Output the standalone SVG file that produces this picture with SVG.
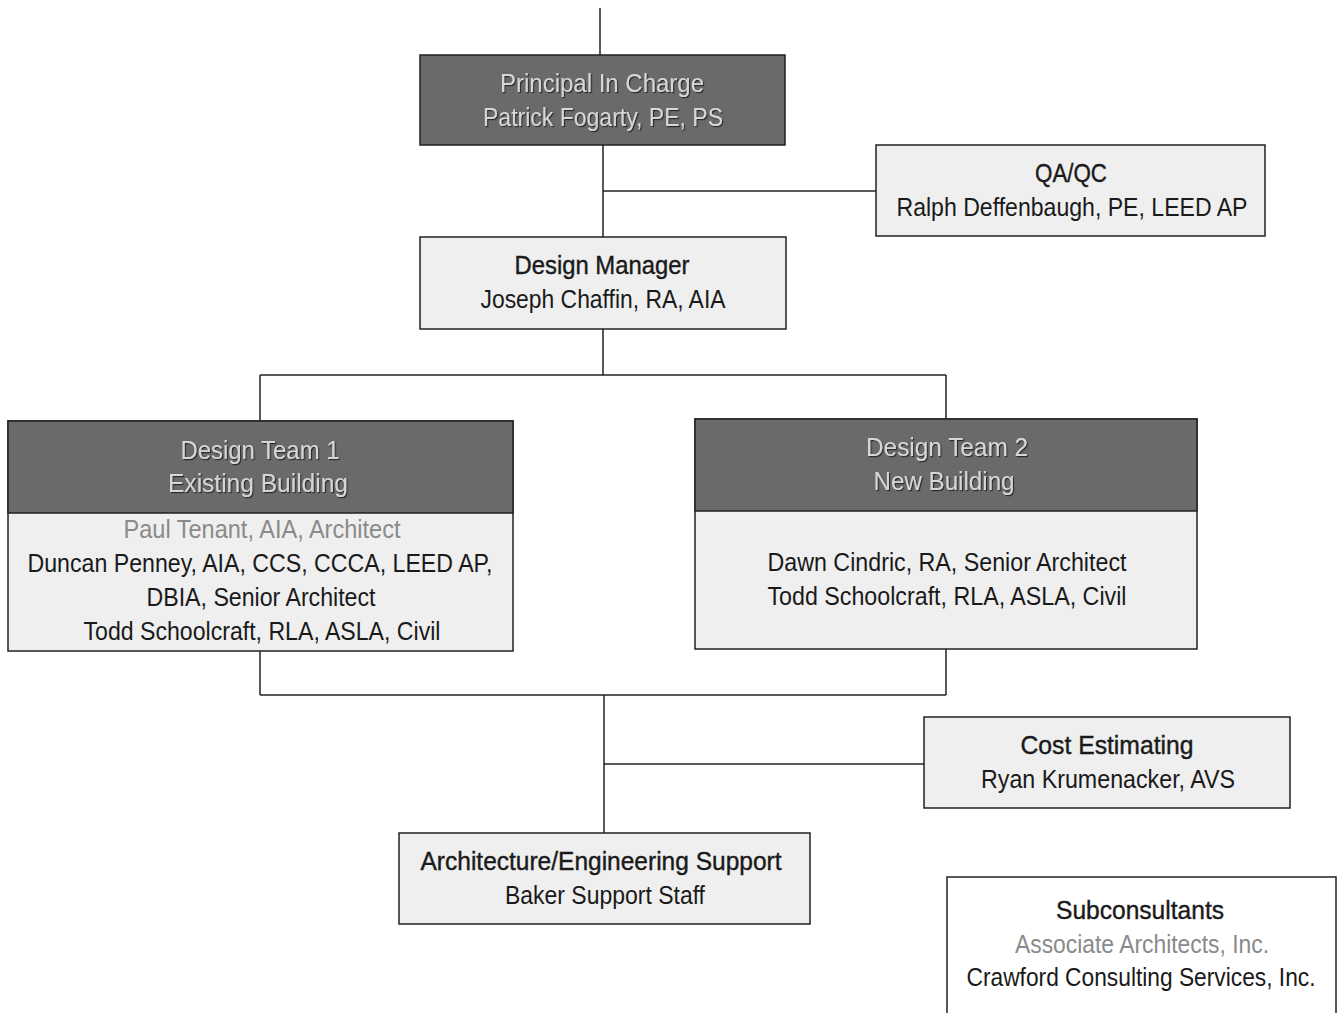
<svg xmlns="http://www.w3.org/2000/svg" width="1338" height="1013" viewBox="0 0 1338 1013">
<defs>
<filter id="sh" x="-10%" y="-20%" width="120%" height="140%">
<feDropShadow dx="1.2" dy="1.2" stdDeviation="0.4" flood-color="#222" flood-opacity="0.9"/>
</filter>
</defs>
<style>
text{font-family:"Liberation Sans Narrow","Liberation Sans",Arial,sans-serif;font-size:26px;text-anchor:middle;fill:#1a1a1a}
.t{stroke:#1a1a1a;stroke-width:0.4}
.g{fill:#8a8a8a}
.h{fill:#d6d6d6;filter:url(#sh)}
.box{fill:#efefef;stroke:#222;stroke-width:1.5}
.dark{fill:#6a6a6a;stroke:#222;stroke-width:1.5}
.white{fill:#fff;stroke:#222;stroke-width:1.5}
#connectors line{stroke:#222;stroke-width:1.5}
</style>
<rect width="1338" height="1013" fill="#fff"/>
<g id="connectors">
<line x1="600" y1="8" x2="600" y2="55"/>
<line x1="603" y1="145" x2="603" y2="237"/>
<line x1="603" y1="191" x2="876" y2="191"/>
<line x1="603" y1="329" x2="603" y2="375"/>
<line x1="260" y1="375" x2="946" y2="375"/>
<line x1="260" y1="375" x2="260" y2="421"/>
<line x1="946" y1="375" x2="946" y2="419"/>
<line x1="260" y1="651" x2="260" y2="695"/>
<line x1="946" y1="649" x2="946" y2="695"/>
<line x1="260" y1="695" x2="946" y2="695"/>
<line x1="604" y1="695" x2="604" y2="833"/>
<line x1="604" y1="764" x2="924" y2="764"/>
</g>
<g id="principal">
<rect class="dark" x="420" y="55" width="365" height="90"/>
<text class="h" x="602" y="92" textLength="204" lengthAdjust="spacingAndGlyphs">Principal In Charge</text>
<text class="h" x="603" y="126" textLength="240" lengthAdjust="spacingAndGlyphs">Patrick Fogarty, PE, PS</text>
</g>
<g id="qaqc">
<rect class="box" x="876" y="145" width="389" height="91"/>
<text class="t" x="1071" y="182" textLength="72" lengthAdjust="spacingAndGlyphs">QA/QC</text>
<text x="1072" y="216" textLength="351" lengthAdjust="spacingAndGlyphs">Ralph Deffenbaugh, PE, LEED AP</text>
</g>
<g id="design-manager">
<rect class="box" x="420" y="237" width="366" height="92"/>
<text class="t" x="602" y="274" textLength="175" lengthAdjust="spacingAndGlyphs">Design Manager</text>
<text x="603" y="308" textLength="245" lengthAdjust="spacingAndGlyphs">Joseph Chaffin, RA, AIA</text>
</g>
<g id="design-team-1">
<rect class="box" x="8" y="421" width="505" height="230"/>
<rect class="dark" x="8" y="421" width="505" height="92"/>
<text class="h" x="260" y="459" textLength="159" lengthAdjust="spacingAndGlyphs">Design Team 1</text>
<text class="h" x="258" y="492" textLength="180" lengthAdjust="spacingAndGlyphs">Existing Building</text>
<text class="g" x="262" y="538" textLength="277" lengthAdjust="spacingAndGlyphs">Paul Tenant, AIA, Architect</text>
<text x="260" y="572" textLength="465" lengthAdjust="spacingAndGlyphs">Duncan Penney, AIA, CCS, CCCA, LEED AP,</text>
<text x="261" y="606" textLength="229" lengthAdjust="spacingAndGlyphs">DBIA, Senior Architect</text>
<text x="262" y="640" textLength="357" lengthAdjust="spacingAndGlyphs">Todd Schoolcraft, RLA, ASLA, Civil</text>
</g>
<g id="design-team-2">
<rect class="box" x="695" y="419" width="502" height="230"/>
<rect class="dark" x="695" y="419" width="502" height="92"/>
<text class="h" x="947" y="456" textLength="162" lengthAdjust="spacingAndGlyphs">Design Team 2</text>
<text class="h" x="944" y="490" textLength="141" lengthAdjust="spacingAndGlyphs">New Building</text>
<text x="947" y="571" textLength="359" lengthAdjust="spacingAndGlyphs">Dawn Cindric, RA, Senior Architect</text>
<text x="947" y="605" textLength="359" lengthAdjust="spacingAndGlyphs">Todd Schoolcraft, RLA, ASLA, Civil</text>
</g>
<g id="cost-estimating">
<rect class="box" x="924" y="717" width="366" height="91"/>
<text class="t" x="1107" y="754" textLength="173" lengthAdjust="spacingAndGlyphs">Cost Estimating</text>
<text x="1108" y="788" textLength="254" lengthAdjust="spacingAndGlyphs">Ryan Krumenacker, AVS</text>
</g>
<g id="ae-support">
<rect class="box" x="399" y="833" width="411" height="91"/>
<text class="t" x="601" y="870" textLength="361" lengthAdjust="spacingAndGlyphs">Architecture/Engineering Support</text>
<text x="605" y="904" textLength="200" lengthAdjust="spacingAndGlyphs">Baker Support Staff</text>
</g>
<g id="subconsultants">
<path class="white" d="M947,1013 V877 H1336 V1013"/>
<text class="t" x="1140" y="919" textLength="168" lengthAdjust="spacingAndGlyphs">Subconsultants</text>
<text class="g" x="1142" y="953" textLength="254" lengthAdjust="spacingAndGlyphs">Associate Architects, Inc.</text>
<text x="1141" y="986" font-size="24" textLength="349" lengthAdjust="spacingAndGlyphs">Crawford Consulting Services, Inc.</text>
</g>
</svg>
